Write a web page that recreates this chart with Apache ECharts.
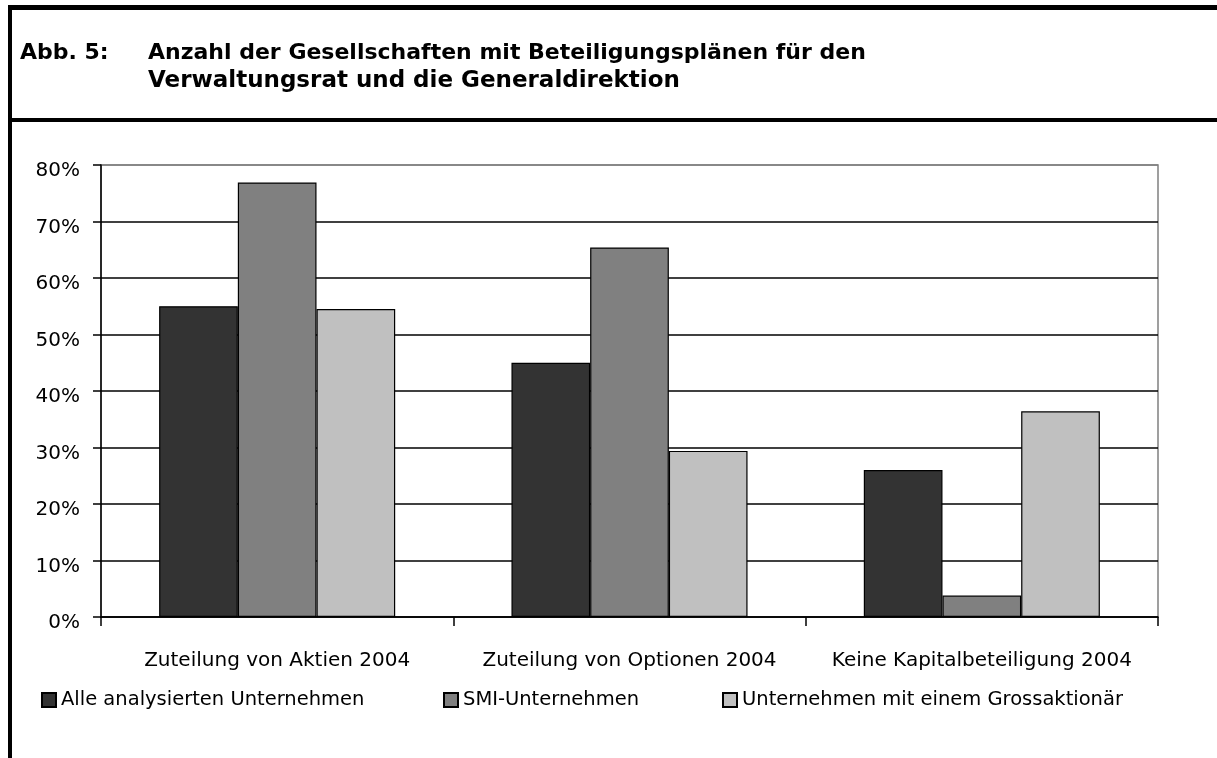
<!DOCTYPE html>
<html>
<head>
<meta charset="utf-8">
<script src="https://cdn.jsdelivr.net/npm/echarts@6/dist/echarts.min.js"></script>
<style>
  html, body { margin: 0; padding: 0; background: #fff; }
  #chart { width: 1217px; height: 758px; }
</style>
</head>
<body>
<div id="chart"></div>
<script>
// Kategorien und Werte (in %)
var categories = ['Zuteilung von Aktien 2004', 'Zuteilung von Optionen 2004', 'Keine Kapitalbeteiligung 2004'];
var alleWerte = [55, 45, 26];
var smiWerte = [76.9, 65.4, 3.8];
var grossWerte = [54.5, 29.4, 36.4];
var yTicks = [0, 10, 20, 30, 40, 50, 60, 70, 80];

var fontAxis = 'DejaVu Sans';

var myChart = echarts.init(document.getElementById('chart'));

myChart.setOption({
  backgroundColor: '#fff',
  animation: false,
  title: [
    {
      text: 'Abb. 5:',
      left: 20, top: 39, padding: 0,
      textStyle: { fontFamily: fontAxis, fontWeight: 'bold', fontSize: 22, color: '#000', lineHeight: 28 }
    },
    {
      text: 'Anzahl der Gesellschaften mit Beteiligungsplänen für den',
      left: 148, top: 39, padding: 0,
      textStyle: { fontFamily: fontAxis, fontWeight: 'bold', fontSize: 22, color: '#000', lineHeight: 28 }
    },
    {
      text: 'Verwaltungsrat und die Generaldirektion',
      left: 148, top: 67, padding: 0,
      textStyle: { fontFamily: fontAxis, fontWeight: 'bold', fontSize: 23, color: '#000', lineHeight: 28 }
    }
  ],
  graphic: [
    { type: 'line', shape: { x1: 8, y1: 7.5, x2: 1217, y2: 7.5 }, style: { stroke: '#000', lineWidth: 5 } },
    { type: 'line', shape: { x1: 10, y1: 5, x2: 10, y2: 758 }, style: { stroke: '#000', lineWidth: 4 } },
    { type: 'line', shape: { x1: 8, y1: 120, x2: 1217, y2: 120 }, style: { stroke: '#000', lineWidth: 4 } }
  ],
  legend: [
    {
      data: ['Alle analysierten Unternehmen'],
      left: 41, top: 690, icon: 'rect', itemWidth: 14, itemHeight: 14, padding: 0,
      textStyle: { fontFamily: fontAxis, fontSize: 19.5, color: '#000' }
    },
    {
      data: ['SMI-Unternehmen'],
      left: 443, top: 690, icon: 'rect', itemWidth: 14, itemHeight: 14, padding: 0,
      textStyle: { fontFamily: fontAxis, fontSize: 19.5, color: '#000' }
    },
    {
      data: ['Unternehmen mit einem Grossaktionär'],
      left: 722, top: 690, icon: 'rect', itemWidth: 14, itemHeight: 14, padding: 0,
      textStyle: { fontFamily: fontAxis, fontSize: 19.5, color: '#000' }
    }
  ],
  grid: {
    left: 101, right: 59, top: 165, bottom: 141,
    show: true, borderColor: '#808080', borderWidth: 1.5, backgroundColor: 'transparent'
  },
  xAxis: {
    type: 'category',
    data: categories,
    axisLine: { lineStyle: { color: '#000', width: 1.5 } },
    axisTick: { show: true, interval: 0, length: 9, lineStyle: { color: '#000', width: 1.5 } },
    axisLabel: { interval: 0, hideOverlap: false, margin: 34, fontFamily: fontAxis, fontSize: 20, color: '#000' }
  },
  yAxis: {
    type: 'value',
    min: 0, max: 80, interval: 10,
    axisLine: { show: true, lineStyle: { color: '#000', width: 1.5 } },
    axisTick: { show: true, length: 8, lineStyle: { color: '#000', width: 1.5 } },
    axisLabel: {
      margin: 21, fontFamily: fontAxis, fontSize: 20, color: '#000',
      verticalAlign: 'top', lineHeight: 12,
      formatter: function (v) { return yTicks.indexOf(v) >= 0 ? v + '%' : ''; }
    },
    splitLine: {
      lineStyle: {
        color: ['#000', '#000', '#000', '#000', '#000', '#000', '#000', '#000', '#808080'],
        width: 1.5
      }
    }
  },
  series: [
    {
      name: 'Alle analysierten Unternehmen', type: 'bar', data: alleWerte,
      barGap: '0%', barCategoryGap: '33%',
      itemStyle: { color: '#333333', borderColor: '#000', borderWidth: 1.2 }
    },
    {
      name: 'SMI-Unternehmen', type: 'bar', data: smiWerte,
      itemStyle: { color: '#808080', borderColor: '#000', borderWidth: 1.2 }
    },
    {
      name: 'Unternehmen mit einem Grossaktionär', type: 'bar', data: grossWerte,
      itemStyle: { color: '#c0c0c0', borderColor: '#000', borderWidth: 1.2 }
    }
  ]
});
</script>
</body>
</html>
